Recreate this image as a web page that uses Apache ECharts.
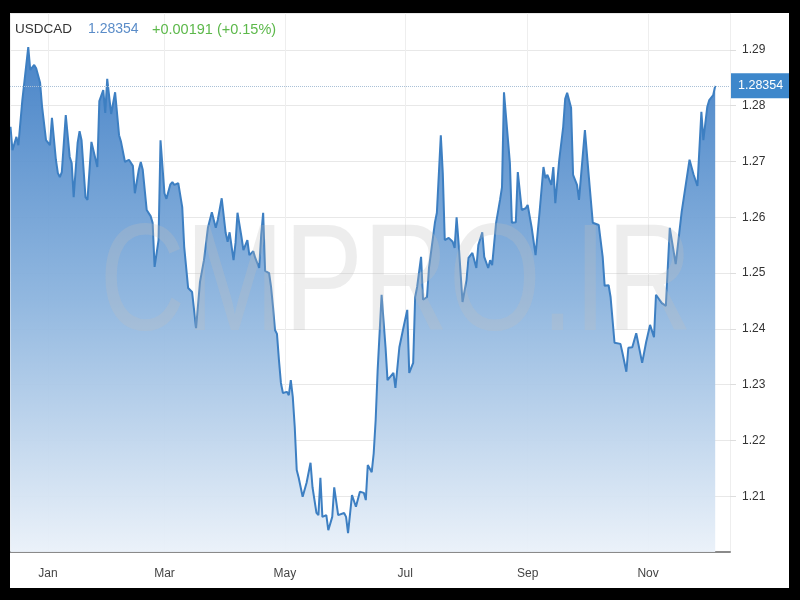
<!DOCTYPE html>
<html>
<head>
<meta charset="utf-8">
<script src="https://cdn.jsdelivr.net/npm/echarts@6/dist/echarts.min.js"></script>
<style>
html,body{margin:0;padding:0;background:#000;width:800px;height:600px;overflow:hidden;}
#chart{position:absolute;left:10px;top:13px;width:779px;height:575px;background:#fff;}
</style>
</head>
<body>
<div id="chart"></div>
<script>
// Days counted from 2021-01-01 (negative = December 2020)
const dayOffsets = [-19,-18,-16,-15,-13,-10,-9,-7,-6,-4,-3,-1,1,2,4,5,6,7,9,11,12,13,15,16,17,19,20,22,23,25,26,28,29,30,32,34,36,37,39,41,43,44,46,47,48,50,52,53,54,56,57,59,60,62,63,64,66,68,69,71,73,74,75,77,79,81,82,83,85,86,88,90,91,92,94,95,96,98,99,101,102,104,105,107,108,109,110,112,113,114,115,116,117,118,119,121,122,123,124,125,126,127,129,130,131,133,134,136,137,138,139,141,142,144,145,147,148,150,151,152,154,156,157,158,160,161,162,164,165,166,167,169,171,172,173,175,176,178,180,181,182,183,185,186,187,189,190,192,193,194,196,197,199,200,201,203,205,206,207,208,210,212,213,215,217,218,220,221,223,224,225,227,229,230,231,232,234,235,237,238,240,242,243,245,247,248,249,251,252,253,255,256,257,259,261,262,263,265,266,268,269,272,274,276,279,281,282,284,285,287,290,291,293,294,296,298,301,303,304,305,307,308,311,313,315,318,321,322,325,327,329,331,332,334,335,337,338];
const values = [1.2762,1.2720,1.2744,1.2729,1.2810,1.2905,1.2864,1.2873,1.2867,1.2841,1.2798,1.2738,1.2729,1.2778,1.2703,1.2679,1.2672,1.2681,1.2783,1.2708,1.2697,1.2636,1.2733,1.2754,1.2738,1.2636,1.2631,1.2735,1.2733,1.2690,1.2808,1.2828,1.2787,1.2848,1.2785,1.2824,1.2747,1.2735,1.2699,1.2703,1.2692,1.2643,1.2685,1.2699,1.2685,1.2613,1.2602,1.2590,1.2511,1.2559,1.2738,1.2643,1.2633,1.2659,1.2663,1.2658,1.2661,1.2618,1.2547,1.2473,1.2466,1.2434,1.2401,1.2484,1.2523,1.2581,1.2579,1.2609,1.2581,1.2595,1.2634,1.2572,1.2556,1.2573,1.2523,1.2554,1.2608,1.2565,1.2541,1.2559,1.2532,1.2539,1.2527,1.2509,1.2568,1.2608,1.2504,1.2500,1.2475,1.2439,1.2398,1.2391,1.2344,1.2303,1.2285,1.2287,1.2281,1.2308,1.2278,1.2224,1.2147,1.2133,1.2099,1.2099,1.2124,1.2160,1.2116,1.2070,1.2066,1.2133,1.2063,1.2066,1.2039,1.2063,1.2116,1.2066,1.2066,1.2070,1.2063,1.2034,1.2102,1.2081,1.2081,1.2108,1.2106,1.2093,1.2156,1.2143,1.2177,1.2237,1.2326,1.2461,1.2367,1.2308,1.2305,1.2321,1.2294,1.2367,1.2401,1.2398,1.2434,1.2321,1.2339,1.2457,1.2475,1.2529,1.2452,1.2457,1.2509,1.2511,1.2590,1.2608,1.2747,1.2679,1.2559,1.2563,1.2556,1.2545,1.2600,1.2554,1.2448,1.2487,1.2527,1.2536,1.2509,1.2550,1.2573,1.2529,1.2509,1.2523,1.2514,1.2590,1.2631,1.2654,1.2824,1.2823,1.2697,1.2590,1.2591,1.2681,1.2613,1.2616,1.2622,1.2582,1.2532,1.2532,1.2608,1.2690,1.2670,1.2676,1.2658,1.2690,1.2625,1.2703,1.2762,1.2812,1.2823,1.2796,1.2676,1.2658,1.2631,1.2756,1.2672,1.2590,1.2586,1.2529,1.2477,1.2478,1.2457,1.2375,1.2373,1.2357,1.2323,1.2366,1.2367,1.2392,1.2339,1.2376,1.2375,1.2407,1.2385,1.2461,1.2446,1.2441,1.2581,1.2516,1.2609,1.2609,1.2703,1.2677,1.2656,1.2789,1.2738,1.2798,1.2810,1.2819,1.28354];
const symbolName = 'USDCAD';
const lastPrice = 1.28354;
const changeText = '+0.00191 (+0.15%)';
const monthNames = ['Jan','Feb','Mar','Apr','May','Jun','Jul','Aug','Sep','Oct','Nov','Dec'];
const yMin = 1.20, yMax = 1.2966, yStep = 0.01;

const DAY = 86400000;
const base = new Date(2021, 0, 1).getTime();
const seriesData = dayOffsets.map((d, i) => [base + d * DAY, values[i]]);

const FONT = '"Liberation Sans", Arial, sans-serif';
const chart = echarts.init(document.getElementById('chart'));
chart.setOption({
  animation: false,
  backgroundColor: '#fff',
  grid: { left: 0, top: 0, right: 59, bottom: 36, containLabel: false },
  xAxis: {
    type: 'time',
    min: base - 19.25 * DAY,
    max: base + 345.5 * DAY,
    minInterval: 61 * DAY,
    maxInterval: 80 * DAY,
    axisLine: { show: true, lineStyle: { color: '#8a8a8a', width: 2 } },
    axisTick: { show: false },
    splitLine: { show: true, lineStyle: { color: '#eeeeee', width: 1 } },
    axisLabel: {
      color: '#444', fontSize: 12, margin: 16, fontFamily: FONT,
      formatter: v => monthNames[new Date(v).getMonth()],
      showMinLabel: false, showMaxLabel: false
    }
  },
  yAxis: {
    type: 'value',
    position: 'right',
    min: yMin, max: yMax, interval: yStep,
    axisLine: { show: false },
    axisTick: { show: true, length: 6, lineStyle: { color: '#dddddd' } },
    splitLine: { show: true, lineStyle: { color: '#e8e8e8', width: 1 } },
    axisLabel: {
      color: '#333', fontSize: 12, margin: 12, fontFamily: FONT,
      showMinLabel: false, showMaxLabel: false,
      formatter: v => v.toFixed(2)
    }
  },
  graphic: [
    { type: 'text', left: 5, top: 9, z: 100, style: { text: symbolName, fill: '#333', font: '13.5px ' + FONT } },
    { type: 'text', left: 78, top: 9, z: 100, style: { text: lastPrice.toFixed(5), fill: '#5a8cc8', font: '14px ' + FONT } },
    { type: 'text', left: 142, top: 9, z: 100, style: { text: changeText, fill: '#5cb84a', font: '14.5px ' + FONT } },
    { type: 'text', x: 386, y: 275, z: 100, scaleX: 0.78, originX: 0, originY: 0,
      style: { text: 'CMPRO.IR', fill: 'rgba(190,190,190,0.28)', font: '152px ' + FONT, align: 'center', verticalAlign: 'middle' } }
  ],
  series: [{
    type: 'line',
    data: seriesData,
    showSymbol: false,
    symbol: 'none',
    lineStyle: { color: '#3d7fc2', width: 2 },
    areaStyle: {
      opacity: 0.95,
      color: new echarts.graphic.LinearGradient(0, 0, 0, 1, [
        { offset: 0, color: '#3f7ec5' },
        { offset: 0.5, color: '#8cb4de' },
        { offset: 1, color: '#eaf1f9' }
      ])
    },
    markLine: {
      silent: true,
      symbol: 'none',
      precision: 5,
      data: [{ yAxis: lastPrice }],
      lineStyle: { type: 'dotted', color: '#a9c0d6', width: 1 },
      label: {
        show: true, position: 'end', distance: 1,
        formatter: () => lastPrice.toFixed(5),
        color: '#fff', backgroundColor: '#3d87cb', padding: [6, 7],
        fontSize: 12.5, fontFamily: FONT
      }
    }
  }]
});
</script>
</body>
</html>
